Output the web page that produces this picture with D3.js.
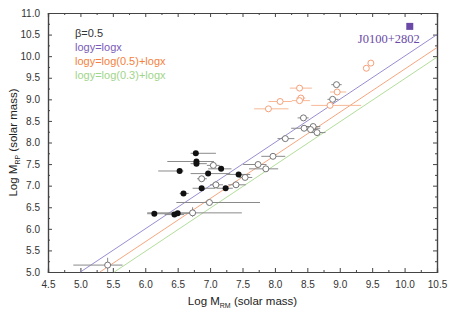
<!DOCTYPE html>
<html>
<head>
<meta charset="utf-8">
<script src="https://cdn.jsdelivr.net/npm/d3@7"></script>
<style>
  body { margin: 0; background: #fff; }
  svg text { font-family: Arial, "Liberation Sans", sans-serif; }
</style>
</head>
<body>
<svg id="chart" width="453" height="315"></svg>
<script>
// filled black points: [logMRM, logMRP, xlo, xhi]
var filledPts = [
  [6.78, 7.75, 6.70, 7.09],
  [6.79, 7.56, 6.34, 7.06],
  [6.79, 7.51, 6.70, 6.95],
  [6.53, 7.34, 6.20, 6.59],
  [7.17, 7.39, 6.97, 7.33],
  [6.97, 7.28, 6.70, 7.31],
  [7.44, 7.26, 7.25, 7.62],
  [6.87, 6.94, 6.73, 7.08],
  [7.24, 6.94, 7.10, 7.35],
  [6.59, 6.82, 6.53, 6.67],
  [6.14, 6.35, 6.03, 6.50],
  [6.45, 6.33, 6.30, 6.60],
  [6.50, 6.36, 6.40, 6.70]
];
// open grey points: [x, y, xlo, xhi, ylo, yhi]
var openPts = [
  [5.42, 5.16, 4.89, 5.65, 5.00, 5.33],
  [6.73, 6.37, 6.03, 7.49, 6.28, 6.50],
  [6.99, 6.61, 6.48, 7.77],
  [6.87, 7.16, 6.80, 6.95],
  [7.05, 7.47, 6.95, 7.15],
  [7.09, 7.02, 7.00, 7.20],
  [7.40, 7.02, 7.28, 7.55],
  [7.54, 7.19, 7.45, 7.65],
  [7.74, 7.49, 7.51, 7.87],
  [7.86, 7.39, 7.60, 8.05],
  [7.97, 7.68, 7.79, 8.16],
  [8.16, 8.09, 8.04, 8.30],
  [8.44, 8.57, 8.35, 8.52],
  [8.45, 8.33, 8.25, 8.70],
  [8.59, 8.37, 8.45, 8.70],
  [8.55, 8.30, 8.45, 8.65],
  [8.65, 8.23, 8.55, 8.78],
  [8.89, 9.00, 8.81, 8.98],
  [8.95, 9.34, 8.87, 9.03]
];
// open orange points: [x, y, xlo, xhi]
var orangePts = [
  [8.38, 9.26, 8.23, 8.57],
  [8.08, 8.95, 7.90, 8.26],
  [7.90, 8.78, 7.68, 8.21],
  [8.40, 9.03, 8.33, 8.47],
  [8.38, 8.97, 8.26, 8.54],
  [8.96, 9.17, 8.85, 9.10],
  [8.85, 8.86, 8.56, 9.33],
  [9.41, 9.72, 9.41, 9.41],
  [9.48, 9.84, 9.48, 9.48]
];
var quasar = {name: "J0100+2802", x: 10.08, y: 10.69};
// relations logy = log(k) + logx
var relations = [
  {label: "logy=logx", k: 1, color: "#8d80cc", text: "#7a5cb8"},
  {label: "logy=log(0.5)+logx", k: 0.5, color: "#f59c70", text: "#f47f40"},
  {label: "logy=log(0.3)+logx", k: 0.3, color: "#a9d98f", text: "#9fd58a"}
];
var xTicks = [4.5, 5.0, 5.5, 6.0, 6.5, 7.0, 7.5, 8.0, 8.5, 9.0, 9.5, 10.0, 10.5];
var yTicks = [5.0, 5.5, 6.0, 6.5, 7.0, 7.5, 8.0, 8.5, 9.0, 9.5, 10.0, 10.5, 11.0];

var margin = {top: 13, right: 16, bottom: 43, left: 48},
  width = 453 - margin.left - margin.right,
  height = 315 - margin.top - margin.bottom;

var svg = d3.select("#chart")
  .append("g")
  .attr("transform", "translate(" + margin.left + "," + margin.top + ")");

var x = d3.scaleLinear().domain([4.5, 10.5]).range([0, width]);
var y = d3.scaleLinear().domain([5, 11]).range([height, 0]);

var minorX = d3.range(4.75, 10.5, 0.5);
var minorY = d3.range(5.25, 11, 0.5);

function styleAxis(g) {
  g.select(".domain").attr("stroke", "#444").attr("stroke-width", 1.2);
  g.selectAll(".tick line").attr("stroke", "#444");
  g.selectAll(".tick text").attr("fill", "#333").style("font-size", "10px");
}

// bottom + top
svg.append("g").attr("transform", "translate(0," + height + ")")
  .call(d3.axisBottom(x).tickValues(minorX).tickSize(-2).tickFormat(""))
  .call(styleAxis);
svg.append("g").attr("transform", "translate(0," + height + ")")
  .call(d3.axisBottom(x).tickValues(xTicks).tickSize(-4).tickPadding(9).tickFormat(d3.format(".1f")))
  .call(styleAxis);
svg.append("g")
  .call(d3.axisTop(x).tickValues(minorX).tickSize(-2).tickFormat(""))
  .call(styleAxis);
svg.append("g")
  .call(d3.axisTop(x).tickValues(xTicks).tickSize(-4).tickFormat(""))
  .call(styleAxis);
// left + right
svg.append("g")
  .call(d3.axisLeft(y).tickValues(minorY).tickSize(-2).tickFormat(""))
  .call(styleAxis);
svg.append("g")
  .call(d3.axisLeft(y).tickValues(yTicks).tickSize(-4).tickPadding(8).tickFormat(d3.format(".1f")))
  .call(styleAxis);
svg.append("g").attr("transform", "translate(" + width + ",0)")
  .call(d3.axisRight(y).tickValues(minorY).tickSize(-2).tickFormat(""))
  .call(styleAxis);
svg.append("g").attr("transform", "translate(" + width + ",0)")
  .call(d3.axisRight(y).tickValues(yTicks).tickSize(-4).tickFormat(""))
  .call(styleAxis);

// relation lines
relations.forEach(function(r) {
  var off = Math.log10(r.k);
  var x0 = 5 - off;
  svg.append("line")
    .attr("x1", x(x0)).attr("y1", y(5))
    .attr("x2", x(10.5)).attr("y2", y(10.5 + off))
    .attr("stroke", r.color)
    .attr("stroke-width", 0.9);
});

// error bars
function drawBars(pts, color) {
  svg.selectAll(null).data(pts).enter().append("line")
    .attr("x1", function(d) { return x(d[2]); })
    .attr("x2", function(d) { return x(d[3]); })
    .attr("y1", function(d) { return y(d[1]); })
    .attr("y2", function(d) { return y(d[1]); })
    .attr("stroke", color).attr("stroke-width", 1);
  svg.selectAll(null).data(pts.filter(function(d) { return d.length > 4; })).enter().append("line")
    .attr("x1", function(d) { return x(d[0]); })
    .attr("x2", function(d) { return x(d[0]); })
    .attr("y1", function(d) { return y(d[4]); })
    .attr("y2", function(d) { return y(d[5]); })
    .attr("stroke", color).attr("stroke-width", 1);
}
drawBars(filledPts, "#8a8a8a");
drawBars(openPts, "#8a8a8a");
drawBars(orangePts, "#f7b896");

svg.selectAll(".open").data(openPts).enter().append("circle")
  .attr("class", "open")
  .attr("cx", function(d) { return x(d[0]); })
  .attr("cy", function(d) { return y(d[1]); })
  .attr("r", 3)
  .attr("fill", "#fff")
  .attr("stroke", "#666").attr("stroke-width", 0.9);

svg.selectAll(".orange").data(orangePts).enter().append("circle")
  .attr("class", "orange")
  .attr("cx", function(d) { return x(d[0]); })
  .attr("cy", function(d) { return y(d[1]); })
  .attr("r", 3)
  .attr("fill", "#fff")
  .attr("stroke", "#f5a07a").attr("stroke-width", 1);

svg.selectAll(".filled").data(filledPts).enter().append("circle")
  .attr("class", "filled")
  .attr("cx", function(d) { return x(d[0]); })
  .attr("cy", function(d) { return y(d[1]); })
  .attr("r", 3)
  .attr("fill", "#111");

// J0100+2802
svg.append("rect")
  .attr("x", x(quasar.x) - 3.5).attr("y", y(quasar.y) - 3.5)
  .attr("width", 7).attr("height", 7)
  .attr("fill", "#6a4aa6");
svg.append("text")
  .attr("x", x(quasar.x) - 21).attr("y", y(quasar.y) + 17)
  .attr("text-anchor", "middle")
  .style("font-family", "'Liberation Serif', 'Times New Roman', serif")
  .style("font-size", "12.5px")
  .attr("fill", "#6a4aa6")
  .text(quasar.name);

// legend text
var leg = svg.append("g").attr("transform", "translate(27,24)");
leg.append("text").attr("y", 0).attr("fill", "#333").style("font-size", "11px").text("β=0.5");
relations.forEach(function(r, i) {
  leg.append("text").attr("y", 14 * (i + 1))
    .attr("fill", r.text).style("font-size", "11px").text(r.label);
});

// axis titles
var xt = svg.append("text")
  .attr("x", width / 2).attr("y", height + 33)
  .attr("text-anchor", "middle").attr("fill", "#222").style("font-size", "11.5px");
xt.append("tspan").text("Log M");
xt.append("tspan").attr("dy", 3).style("font-size", "7px").text("RM");
xt.append("tspan").attr("dy", -3).text(" (solar mass)");

var yt = svg.append("text")
  .attr("transform", "translate(-31," + (height / 2) + ") rotate(-90)")
  .attr("text-anchor", "middle").attr("fill", "#222").style("font-size", "11.5px");
yt.append("tspan").text("Log M");
yt.append("tspan").attr("dy", 3).style("font-size", "7px").text("RP");
yt.append("tspan").attr("dy", -3).text(" (solar mass)");
</script>
</body>
</html>
